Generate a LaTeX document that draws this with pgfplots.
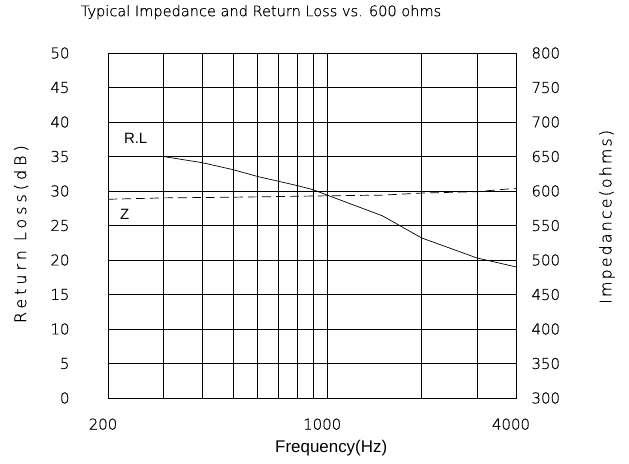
\documentclass[border=0pt]{standalone}
\usepackage{fontspec}
\setmainfont{Liberation Sans}
\newfontfamily\cad[FakeBold=0.6]{DejaVu Sans ExtraLight}
\newfontfamily\cadw[FakeBold=0.6,LetterSpace=25]{DejaVu Sans ExtraLight}
\newfontfamily\cadr[FakeBold=0.6,LetterSpace=13]{DejaVu Sans ExtraLight}
\usepackage{pgfplots}
\pgfplotsset{compat=1.18}
\begin{document}
\begin{tikzpicture}
\useasboundingbox (0,0) rectangle (629bp,464bp);
\begin{axis}[
  at={(108bp,66bp)}, anchor=south west,
  scale only axis, width=408bp, height=345bp,
  xmode=log, xmin=200, xmax=4000, ymin=0, ymax=50,
  log basis x=10,
  xtick={200,1000,4000}, xticklabels={200,1000,4000},
  extra x ticks={300,400,500,600,700,800,900,2000,3000},
  extra x tick labels={},
  extra x tick style={grid=major},
  ytick={0,5,...,50},
  xmajorgrids, ymajorgrids,
  minor tick num=0,
  major tick length=0pt,
  grid style={black, line width=0.6pt},
  axis line style={black, line width=0.6pt},
  tick label style={font=\cad\fontsize{15}{17}\selectfont},
  /pgf/number format/assume math mode=true,
  xticklabel style={yshift=-17bp, xshift=-5bp},
  yticklabel style={xshift=-35bp},
  xlabel={Frequency(Hz)},
  xlabel style={at={(axis description cs:0.547,-0.145)}, anchor=center, font=\fontsize{17}{20}\selectfont},
  ylabel={Return Loss(dB)},
  ylabel style={at={(axis description cs:-0.213,0.475)}, anchor=center, rotate=0, font=\cadw\fontsize{16}{18}\selectfont},
  title={Typical Impedance and Return Loss vs. 600 ohms},
  title style={at={(axis description cs:0.375,1.101)}, anchor=center, font=\cad\fontsize{14.6}{16}\selectfont},
  clip=false,
]
\addplot[black, line width=0.7pt] coordinates {
  (200,35) (300,35) (400,34.1) (500,33.1) (600,32.1) (700,31.4) (800,30.8) (900,30.2) (1000,29.4)
  (1500,26.4) (2000,23.2) (3000,20.3) (4000,19.0)};
\addplot[black, line width=2pt, forget plot] coordinates {(200,35) (300,35)};
\node[font=\fontsize{15}{17}\selectfont] at (axis cs:245,37.6) {R.L};
\node[font=\fontsize{15}{17}\selectfont] at (axis cs:226,26.6) {Z};
\end{axis}
\begin{axis}[
  at={(108bp,66bp)}, anchor=south west,
  scale only axis, width=408bp, height=345bp,
  xmode=log, xmin=200, xmax=4000, ymin=300, ymax=800,
  axis x line=none, axis y line*=right,
  ytick={300,350,...,800},
  major tick length=0pt,
  axis line style={black, line width=0.6pt},
  tick label style={font=\cad\fontsize{15}{17}\selectfont},
  /pgf/number format/assume math mode=true,
  yticklabel style={xshift=12bp},
  ylabel={Impedance(ohms)},
  ylabel style={at={(axis description cs:1.223,0.525)}, anchor=center, rotate=0, font=\cadr\fontsize{16}{18}\selectfont},
  clip=false,
]
\addplot[black, line width=0.7pt, dash pattern=on 9bp off 5bp] coordinates {
  (200,588) (300,590) (500,591) (1000,593) (1500,594) (2000,597) (3000,599) (4000,604)};
\end{axis}
\end{tikzpicture}
\end{document}
